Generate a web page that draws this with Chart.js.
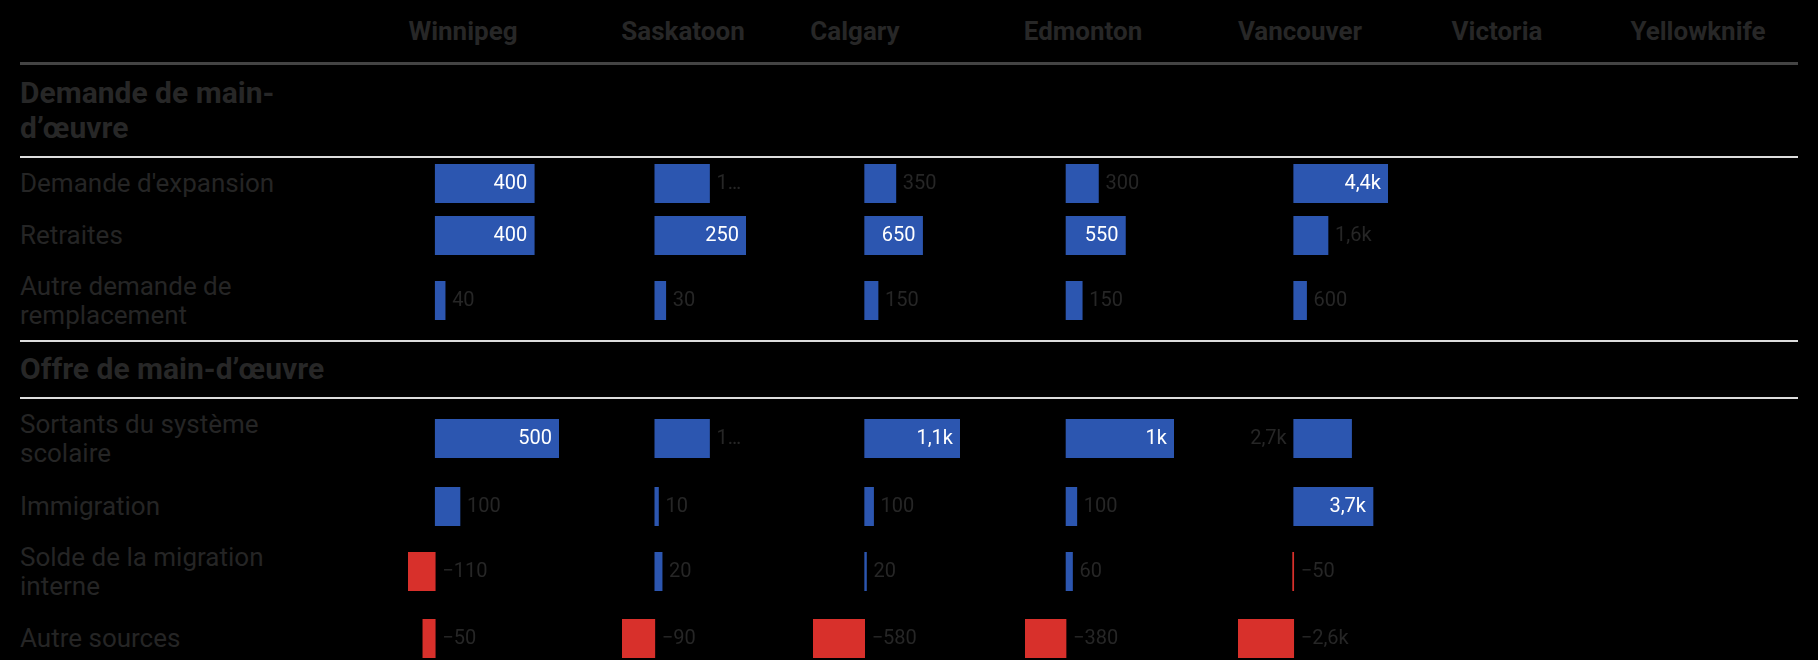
<!DOCTYPE html>
<html>
<head>
<meta charset="utf-8">
<script src="https://cdn.jsdelivr.net/npm/chart.js@4.4.1/dist/chart.umd.min.js"></script>
<style>
  html, body { margin: 0; padding: 0; background: #000; width: 1818px; height: 660px; overflow: hidden; }
  #root { position: relative; width: 1818px; height: 660px; font-family: Roboto, "Noto Sans", sans-serif; }
  .abs { position: absolute; }
  .hdr { font-weight: 700; font-size: 26px; line-height: 26px; color: #272727; white-space: nowrap; transform: translateX(-50%); }
  .sec { font-weight: 700; font-size: 30px; line-height: 35px; color: #272727; width: 335px; }
  .lbl { font-size: 26px; line-height: 29px; color: #252525; width: 305px; display: flex; align-items: center; }
  canvas { position: absolute; display: block; }
</style>
</head>
<body>
<div id="root"></div>
<script>
// ---------- data ----------
const cities = ['Winnipeg', 'Saskatoon', 'Calgary', 'Edmonton', 'Vancouver', 'Victoria', 'Yellowknife'];
const sections = ['Demande de main-d\u2019\u0153uvre', 'Offre de main-d\u2019\u0153uvre'];
const rowLabels = [
  "Demande d'expansion",
  'Retraites',
  'Autre demande de remplacement',
  'Sortants du syst\u00e8me scolaire',
  'Immigration',
  'Solde de la migration interne',
  'Autre sources'
];
const rowSection = [0, 0, 0, 1, 1, 1, 1];

const winnipeg    = [400, 400, 40, 500, 100, -110, -50];
const saskatoon   = [150, 250, 30, 150, 10, 20, -90];
const calgary     = [350, 650, 150, 1070, 100, 20, -580];
const edmonton    = [300, 550, 150, 1000, 100, 60, -380];
const vancouver   = [4400, 1600, 600, 2700, 3700, -50, -2600];
const victoria    = [null, null, null, null, null, null, null];
const yellowknife = [null, null, null, null, null, null, null];
const seriesByCity = [winnipeg, saskatoon, calgary, edmonton, vancouver, victoria, yellowknife];

// ---------- style / layout (kept apart from data) ----------
const BLUE = '#2c56b0';
const RED = '#d8302b';
const TEXT = '#262626';
const labelPlacement = [
  ['in', 'in', 'out', 'in', 'out', 'out', 'out'],
  ['out', 'in', 'out', 'out', 'out', 'out', 'out'],
  ['out', 'in', 'out', 'in', 'out', 'out', 'out'],
  ['out', 'in', 'out', 'in', 'out', 'out', 'out'],
  ['in', 'out', 'out', 'left', 'in', 'out', 'out'],
  [], []
];
const headerCenters = [463, 683, 855, 1083, 1300, 1497, 1698];
const colLeft  = [408, 622, 813, 1025, 1238, 1440, 1640];
const colWidth = [151, 124, 147, 149, 150, 150, 150];
const rowTop = [164, 216, 281, 419, 487, 552, 619];
const barH = 39;
const headerTop = 18;
const sectionTop = [75, 351];
const rules = [
  { y: 62, h: 3, c: '#444444' },
  { y: 156, h: 2, c: '#dddddd' },
  { y: 340, h: 2, c: '#dddddd' },
  { y: 397, h: 2, c: '#dddddd' }
];

const root = document.getElementById('root');
function el(cls, text, styles) {
  const d = document.createElement('div');
  d.className = 'abs ' + cls;
  d.textContent = text;
  Object.assign(d.style, styles);
  root.appendChild(d);
  return d;
}

// headers
cities.forEach((c, i) => el('hdr', c, { left: headerCenters[i] + 'px', top: headerTop + 'px' }));
// rules
rules.forEach(r => el('', '', { left: '20px', width: '1778px', top: r.y + 'px', height: r.h + 'px', background: r.c }));
// section headings
sections.forEach((s, i) => el('sec', s, { left: '20px', top: sectionTop[i] + 'px' }));
// row labels
rowLabels.forEach((l, i) => el('lbl', l, { left: '20px', top: rowTop[i] + 'px', height: barH + 'px' }));

function fmt(v) {
  const a = Math.abs(v);
  let s;
  if (a >= 1000) s = (Math.round(a / 100) / 10).toString().replace('.', ',') + 'k';
  else s = String(a);
  return (v < 0 ? '\u2212' : '') + s;
}

const valueLabels = {
  id: 'valueLabels',
  afterDatasetsDraw(chart, args, opts) {
    const v = chart.data.datasets[0].data[0];
    if (v === null || v === undefined) return;
    const bar = chart.getDatasetMeta(0).data[0];
    const { x, y, base } = bar.getProps(['x', 'y', 'base'], true);
    const ctx = chart.ctx;
    const gap = 7;
    const lo = Math.min(x, base), hi = Math.max(x, base);
    let text = fmt(v);
    ctx.save();
    ctx.font = '20px Roboto';
    ctx.textBaseline = 'middle';
    if (opts.place === 'in') {
      ctx.fillStyle = '#ffffff';
      ctx.textAlign = 'right';
      ctx.fillText(text, hi - gap, y);
    } else if (opts.place === 'left') {
      ctx.fillStyle = TEXT;
      ctx.textAlign = 'right';
      ctx.fillText(text, lo - gap, y);
    } else {
      const start = hi + gap;
      const avail = chart.width - start;
      if (ctx.measureText(text).width > avail) {
        while (text.length > 1 && ctx.measureText(text + '\u2026').width > avail) text = text.slice(0, -1);
        text += '\u2026';
      }
      ctx.fillStyle = TEXT;
      ctx.textAlign = 'left';
      ctx.fillText(text, start, y);
    }
    ctx.restore();
  }
};

function build() {
  seriesByCity.forEach((vals, c) => {
    const present = vals.filter(v => v !== null);
    if (!present.length) return;
    const min = Math.min(0, ...present);
    const max = Math.max(0, ...present);
    vals.forEach((v, r) => {
      if (v === null) return;
      const cv = document.createElement('canvas');
      cv.width = colWidth[c];
      cv.height = barH;
      cv.style.left = colLeft[c] + 'px';
      cv.style.top = rowTop[r] + 'px';
      cv.style.width = colWidth[c] + 'px';
      cv.style.height = barH + 'px';
      root.appendChild(cv);
      new Chart(cv, {
        type: 'bar',
        data: {
          labels: [rowLabels[r]],
          datasets: [{
            label: cities[c],
            data: [v],
            backgroundColor: v < 0 ? RED : BLUE,
            borderWidth: 0,
            barPercentage: 1,
            categoryPercentage: 1
          }]
        },
        options: {
          indexAxis: 'y',
          responsive: false,
          animation: false,
          events: [],
          layout: { padding: 0 },
          scales: {
            x: { type: 'linear', display: false, min: min, max: max },
            y: { display: false }
          },
          plugins: {
            legend: { display: false },
            tooltip: { enabled: false },
            valueLabels: { place: labelPlacement[c][r] }
          }
        },
        plugins: [valueLabels]
      });
    });
  });
}

if (document.fonts && document.fonts.load) {
  document.fonts.load('20px Roboto').then(build, build);
} else {
  build();
}
</script>
</body>
</html>
